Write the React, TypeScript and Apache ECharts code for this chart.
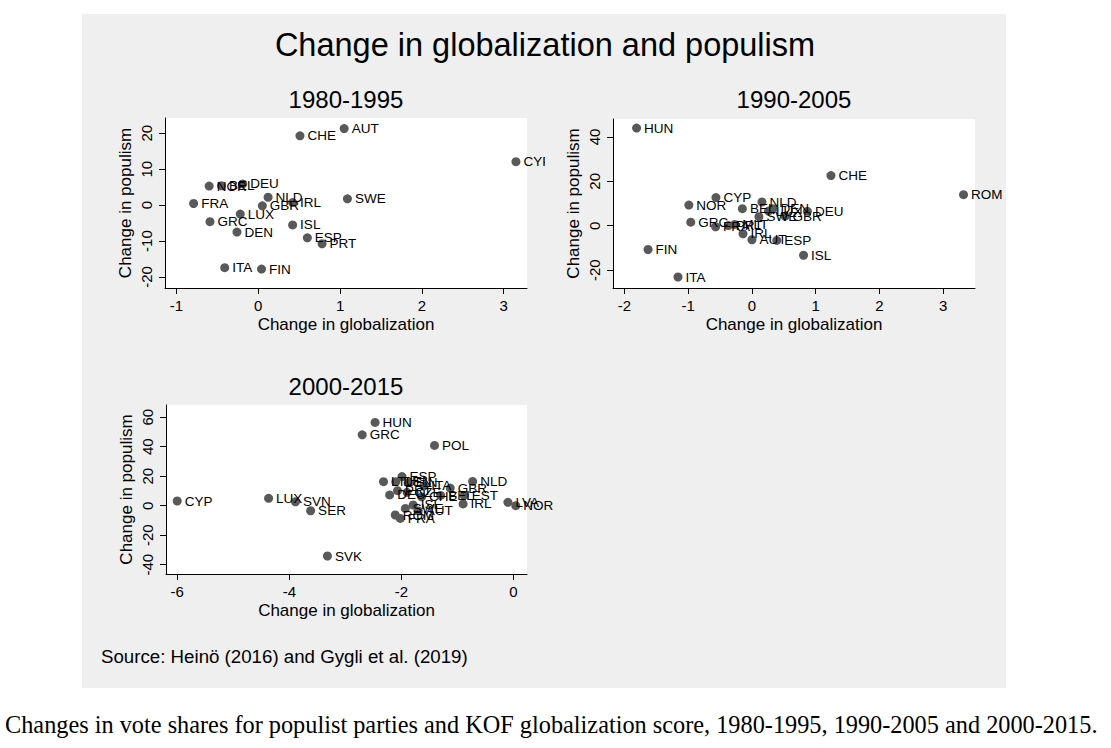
import React, { useEffect, useRef } from "react";
import * as echarts from "echarts";

// ---- Data: 1980-1995 ----
const names1 = ["CHE", "AUT", "CYP", "NOR", "BEL", "DEU", "NLD", "IRL", "GBR", "SWE", "FRA", "LUX", "GRC", "DEN", "ISL", "ESP", "PRT", "ITA", "FIN"];
const glob1 = [0.51, 1.05, 3.15, -0.6, -0.45, -0.19, 0.12, 0.42, 0.05, 1.09, -0.79, -0.22, -0.59, -0.26, 0.42, 0.6, 0.78, -0.41, 0.04];
const pop1 = [19.3, 21.3, 12.1, 5.3, 5.4, 5.9, 2.2, 0.7, -0.2, 1.75, 0.45, -2.5, -4.6, -7.5, -5.5, -9.1, -10.75, -17.4, -17.8];

// ---- Data: 1990-2005 ----
const names2 = ["HUN", "CHE", "ROM", "CYP", "NOR", "NLD", "BEL", "DEN", "LUX", "SWE", "GBR", "DEU", "GRC", "FRA", "PRT", "MLT", "IRL", "AUT", "ESP", "FIN", "ISL", "ITA"];
const glob2 = [-1.81, 1.24, 3.32, -0.565, -0.99, 0.157, -0.15, 0.33, 0.26, 0.11, 0.52, 0.87, -0.96, -0.57, -0.37, -0.27, -0.14, 0.0, 0.39, -1.63, 0.81, -1.16];
const pop2 = [44.0, 22.6, 14.0, 12.7, 9.3, 10.7, 7.7, 7.7, 6.6, 4.1, 4.3, 6.5, 1.6, -0.45, 0.1, 0.6, -3.6, -6.3, -6.6, -10.7, -13.3, -23.1];

// ---- Data: 2000-2015 ----
const names3 = ["HUN", "GRC", "POL", "CYP", "LUX", "SVN", "SER", "SVK", "NLD", "IRL", "LVA", "NOR", "ESP", "LTU", "DEN", "FIN", "ITA", "GBR", "EST", "DEU", "PRT", "CZE", "CHE", "BEL", "ISL", "SWE", "AUT", "ROM", "FRA"];
const glob3 = [-2.47, -2.7, -1.41, -6.0, -4.37, -3.89, -3.62, -3.32, -0.73, -0.9, -0.1, 0.04, -1.99, -2.32, -2.1, -1.88, -1.6, -1.13, -0.88, -2.21, -2.07, -1.9, -1.64, -1.3, -1.79, -1.93, -1.7, -2.11, -2.02];
const pop3 = [56.5, 48.1, 40.9, 3.2, 5.0, 2.7, -3.4, -34.1, 16.5, 1.2, 2.3, 0.0, 19.8, 16.3, 16.3, 15.5, 13.5, 12.0, 7.0, 7.3, 10.2, 9.1, 6.0, 7.0, 0.5, -1.8, -3.5, -6.3, -8.6];

// ---- Tick labels ----
const xTicks1 = [-1, 0, 1, 2, 3];
const yTicks1 = [-20, -10, 0, 10, 20];
const xTicks2 = [-2, -1, 0, 1, 2, 3];
const yTicks2 = [-20, 0, 20, 40];
const xTicks3 = [-6, -4, -2, 0];
const yTicks3 = [-40, -20, 0, 20, 40, 60];

const mainTitle = "Change in globalization and populism";
const panelTitles = ["1980-1995", "1990-2005", "2000-2015"];
const xName = "Change in globalization";
const yName = "Change in populism";
const sourceText = "Source: Heinö (2016) and Gygli et al. (2019)";
const caption =
  "Changes in vote shares for populist parties and KOF globalization score, 1980-1995, 1990-2005 and 2000-2015.";

const SANS = "'Liberation Sans', Arial, Helvetica, sans-serif";
const SERIF = "'Liberation Serif', 'Times New Roman', serif";
const DOT = "#595959";

function xAxisDef(idx: number, min: number, max: number, ticks: number[]) {
  return {
    type: "value",
    gridIndex: idx,
    min,
    max,
    name: xName,
    nameLocation: "middle",
    nameGap: 28,
    nameTextStyle: { fontFamily: SANS, fontSize: 17, color: "#000" },
    axisLine: { show: true, onZero: false, lineStyle: { color: "#000", width: 1 } },
    axisTick: { show: true, length: 6, lineStyle: { color: "#000" }, customValues: ticks },
    axisLabel: {
      show: true,
      customValues: ticks,
      margin: 10,
      fontFamily: SANS,
      fontSize: 15,
      color: "#000",
      formatter: (v: number) => String(v),
    },
    splitLine: { show: false },
  };
}

function yAxisDef(idx: number, min: number, max: number, ticks: number[]) {
  return {
    type: "value",
    gridIndex: idx,
    min,
    max,
    name: yName,
    nameLocation: "middle",
    nameGap: 31,
    nameRotate: 90,
    nameTextStyle: { fontFamily: SANS, fontSize: 17, color: "#000" },
    axisLine: { show: true, onZero: false, lineStyle: { color: "#000", width: 1 } },
    axisTick: { show: true, length: 6, lineStyle: { color: "#000" }, customValues: ticks },
    axisLabel: {
      show: true,
      customValues: ticks,
      rotate: 90,
      margin: 11,
      fontFamily: SANS,
      fontSize: 15,
      color: "#000",
      formatter: (v: number) => String(v),
    },
    splitLine: { show: false },
  };
}

function seriesDef(idx: number, names: string[], xs: number[], ys: number[]) {
  return {
    type: "scatter",
    xAxisIndex: idx,
    yAxisIndex: idx,
    symbol: "circle",
    symbolSize: 9,
    clip: false,
    silent: true,
    itemStyle: { color: DOT, opacity: 1 },
    label: {
      show: true,
      position: "right",
      distance: 3,
      fontFamily: SANS,
      fontSize: 13.5,
      color: "#000",
      formatter: (p: any) => p.name,
    },
    emphasis: { disabled: true },
    data: names.map((n, i) => ({ name: n, value: [xs[i], ys[i]] })),
  };
}

function txt(text: string, x: number, y: number, font: string, align = "center") {
  return {
    type: "text",
    x,
    y,
    silent: true,
    z: 50,
    style: {
      text,
      font,
      fill: "#000",
      align,
      verticalAlign: "middle",
      textAlign: align,
      textVerticalAlign: "middle",
    },
  };
}

export default function App() {
  const ref = useRef<HTMLDivElement>(null);
  useEffect(() => {
    if (!ref.current) return;
    const chart = echarts.init(ref.current, undefined, { renderer: "svg" });
    chart.setOption({
      animation: false,
      backgroundColor: "transparent",
      grid: [
        { left: 165, top: 118, width: 362, height: 170, show: true, backgroundColor: "#fff", borderWidth: 0 },
        { left: 613, top: 119, width: 362, height: 169, show: true, backgroundColor: "#fff", borderWidth: 0 },
        { left: 166, top: 405, width: 361, height: 169, show: true, backgroundColor: "#fff", borderWidth: 0 },
      ],
      xAxis: [
        xAxisDef(0, -1.14, 3.285, xTicks1),
        xAxisDef(1, -2.18, 3.5, xTicks2),
        xAxisDef(2, -6.2, 0.24, xTicks3),
      ],
      yAxis: [
        yAxisDef(0, -23.06, 24.25, yTicks1),
        yAxisDef(1, -28.05, 48.1, yTicks2),
        yAxisDef(2, -46.3, 68.3, yTicks3),
      ],
      series: [
        seriesDef(0, names1, glob1, pop1),
        seriesDef(1, names2, glob2, pop2),
        seriesDef(2, names3, glob3, pop3),
      ],
      graphic: [
        // cover to clip overflowing label of panel 1 at the subgraph edge
        {
          type: "rect",
          shape: { x: 545, y: 110, width: 14, height: 185 },
          style: { fill: "#efefef" },
          z: 100,
          silent: true,
        },
        txt(mainTitle, 545, 45, `32.5px ${SANS}`),
        txt(panelTitles[0], 346, 99, `24px ${SANS}`),
        txt(panelTitles[1], 794, 99, `24px ${SANS}`),
        txt(panelTitles[2], 346, 386, `24px ${SANS}`),
        txt(sourceText, 101, 656, `18.7px ${SANS}`, "left"),
        txt(caption, 5, 724, `24.3px ${SERIF}`, "left"),
      ],
    });
    return () => chart.dispose();
  }, []);
  return (
    <div style={{ position: "fixed", left: 0, top: 0, width: 1111, height: 748, background: "#fff" }}>
      <div
        style={{ position: "absolute", left: 82, top: 14, width: 924, height: 674, background: "#efefef" }}
      />
      <div ref={ref} style={{ position: "absolute", left: 0, top: 0, width: 1111, height: 748 }} />
    </div>
  );
}
